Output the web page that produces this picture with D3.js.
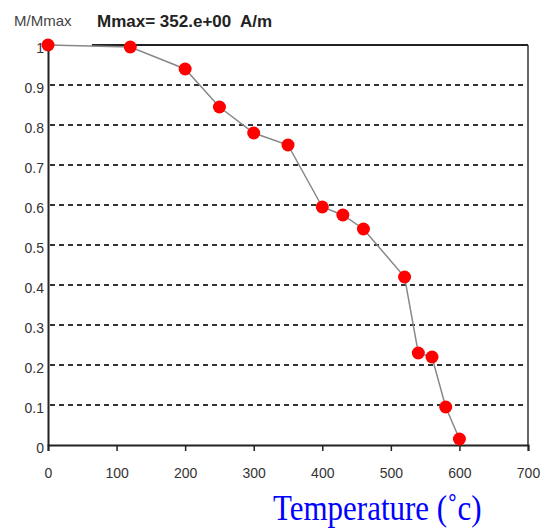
<!DOCTYPE html>
<html>
<head>
<meta charset="utf-8">
<script src="https://cdn.jsdelivr.net/npm/d3@7"></script>
<style>
  body { margin: 0; background: #fff; }
  svg { display: block; }
</style>
</head>
<body>
<script>
'use strict';

// Data ===========================================
var temps = [0, 120, 200, 250, 300, 350, 400, 430, 460, 520, 540, 560, 580, 600];
var mRatio = [1, 0.995, 0.94, 0.845, 0.78, 0.75, 0.595, 0.575, 0.54, 0.42, 0.23, 0.22, 0.095, 0.015];
var xTicks = [0, 100, 200, 300, 400, 500, 600, 700];
var yTicks = [0, 0.1, 0.2, 0.3, 0.4, 0.5, 0.6, 0.7, 0.8, 0.9, 1];

// Sizing (plot box edges)
var width = 552, height = 529;
var plotLeft = 48, plotRight = 528, plotTop = 45, plotBottom = 445;

var svg = d3.select('body').append('svg')
  .attr('width', width)
  .attr('height', height);

var x = d3.scaleLinear().domain([0, 700]).range([plotLeft, plotRight]);
var y = d3.scaleLinear().domain([0, 1]).range([plotBottom, plotTop]);

// dashed grid lines
svg.append('g').selectAll('line')
  .data(yTicks.filter(function (d) { return d > 0 && d < 1; }))
  .enter().append('line')
  .attr('x1', x(0) + 2)
  .attr('x2', x(700) - 4)
  .attr('y1', function (d) { return y(d); })
  .attr('y2', function (d) { return y(d); })
  .attr('stroke', '#333')
  .attr('stroke-width', 2)
  .attr('stroke-dasharray', '5,4');

// frame: top line starts a bit right of the axis, like the original
svg.append('line')
  .attr('x1', x(64)).attr('x2', x(700))
  .attr('y1', y(1)).attr('y2', y(1))
  .attr('stroke', '#222').attr('stroke-width', 2);
svg.append('line')
  .attr('x1', x(700)).attr('x2', x(700))
  .attr('y1', y(1)).attr('y2', y(0))
  .attr('stroke', '#333').attr('stroke-width', 1.5);

// x axis
var xAxis = svg.append('g')
  .attr('transform', 'translate(0,' + plotBottom + ')')
  .call(d3.axisBottom(x).tickValues(xTicks).tickSize(6).tickPadding(17).tickFormat(d3.format('d')));
xAxis.select('.domain').attr('stroke', '#222').attr('stroke-width', 2);
xAxis.selectAll('.tick line').attr('stroke', '#222').attr('stroke-width', 1.5);
xAxis.selectAll('text')
  .style('font-family', 'Liberation Sans, Arial, sans-serif')
  .style('font-size', '14px')
  .attr('fill', '#333');

// y axis
var yAxis = svg.append('g')
  .attr('transform', 'translate(' + plotLeft + ',0)')
  .call(d3.axisLeft(y).tickValues(yTicks).tickSize(0).tickPadding(4)
    .tickFormat(function (d) { return d === 0 ? '0' : d === 1 ? '1' : d3.format('.1f')(d); }));
yAxis.select('.domain').attr('stroke', '#222').attr('stroke-width', 2);
yAxis.selectAll('text')
  .attr('dy', '0.5em')
  .style('font-family', 'Liberation Sans, Arial, sans-serif')
  .style('font-size', '14px')
  .attr('fill', '#333');

// data line
var line = d3.line()
  .x(function (d, i) { return x(temps[i]); })
  .y(function (d) { return y(d); });

svg.append('path')
  .datum(mRatio)
  .attr('d', line)
  .attr('fill', 'none')
  .attr('stroke', '#888')
  .attr('stroke-width', 1.5);

// red markers
svg.append('g').selectAll('circle')
  .data(mRatio)
  .enter().append('circle')
  .attr('cx', function (d, i) { return x(temps[i]); })
  .attr('cy', function (d) { return y(d); })
  .attr('r', 6.5)
  .attr('fill', '#ff0000');

// labels on top
svg.append('text')
  .attr('x', 14).attr('y', 26)
  .style('font-family', 'Liberation Sans, Arial, sans-serif')
  .style('font-size', '15px')
  .attr('fill', '#444')
  .text('M/Mmax');

svg.append('text')
  .attr('x', 97).attr('y', 27)
  .style('font-family', 'Liberation Sans, Arial, sans-serif')
  .style('font-size', '17px')
  .style('font-weight', 'bold')
  .attr('fill', '#222')
  .attr('xml:space', 'preserve')
  .text('Mmax= 352.e+00  A/m');

// axis title
svg.append('text')
  .attr('transform', 'translate(273,520) scale(1,1.15)')
  .style('font-family', 'Liberation Serif, Times New Roman, serif')
  .style('font-size', '31px')
  .attr('fill', '#0000ff')
  .text('Temperature (˚c)');
</script>
</body>
</html>
